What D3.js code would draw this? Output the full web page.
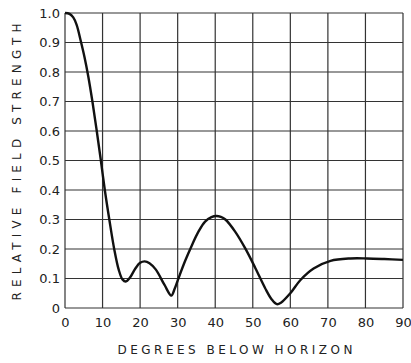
<!DOCTYPE html>
<html>
<head>
<meta charset="utf-8">
<script src="https://cdn.jsdelivr.net/npm/d3@7"></script>
<style>
  body { margin: 0; background: #fff; }
  text { font-family: "DejaVu Sans", sans-serif; fill: #222; }
</style>
</head>
<body>
<div id="chart"></div>
<script>
// values
const degrees = [0, 1.2, 2.2, 3.1, 4.2, 5.2, 6.2, 7.3, 8.4, 9.5, 10.6, 11.8, 13.1, 14.3, 15.3, 16.2, 17.3, 18.7, 20, 21.2, 22.5, 24.2, 26.5, 28.3, 29.2, 30.2, 32, 33.8, 35.5, 37.3, 39, 40.3, 41.5, 42.7, 45.3, 48, 50.7, 53.3, 55, 56.4, 57.5, 60, 62.7, 66.2, 70.7, 76, 80.4, 85, 90];
const strength = [1.0, 0.997, 0.985, 0.96, 0.905, 0.85, 0.785, 0.70, 0.605, 0.505, 0.40, 0.30, 0.20, 0.13, 0.097, 0.09, 0.103, 0.133, 0.153, 0.158, 0.152, 0.13, 0.078, 0.042, 0.065, 0.10, 0.16, 0.213, 0.258, 0.293, 0.308, 0.312, 0.309, 0.300, 0.259, 0.202, 0.135, 0.067, 0.03, 0.013, 0.018, 0.05, 0.095, 0.134, 0.160, 0.168, 0.168, 0.166, 0.163];

const xTicks = [0, 10, 20, 30, 40, 50, 60, 70, 80, 90];
const yTicks = [0, 0.1, 0.2, 0.3, 0.4, 0.5, 0.6, 0.7, 0.8, 0.9, 1.0];
const yTickLabels = ["0", "0.1", "0.2", "0.3", "0.4", "0.5", "0.6", "0.7", "0.8", "0.9", "1.0"];

const W = 411, H = 363;
const margin = { top: 13, right: 8, bottom: 55, left: 65 };
const width = W - margin.left - margin.right;
const height = H - margin.top - margin.bottom;

const svg = d3.select("#chart").append("svg")
  .attr("width", W)
  .attr("height", H);

const g = svg.append("g")
  .attr("transform", `translate(${margin.left},${margin.top})`);

const x = d3.scaleLinear().domain([0, 90]).range([0, width]);
const y = d3.scaleLinear().domain([0, 1]).range([height, 0]);

// grid
g.selectAll(".vgrid")
  .data(xTicks)
  .enter().append("line")
  .attr("x1", d => x(d)).attr("x2", d => x(d))
  .attr("y1", 0).attr("y2", height)
  .attr("stroke", "#333").attr("stroke-width", 1.2);

g.selectAll(".hgrid")
  .data(yTicks)
  .enter().append("line")
  .attr("x1", 0).attr("x2", width)
  .attr("y1", d => y(d)).attr("y2", d => y(d))
  .attr("stroke", "#333").attr("stroke-width", 1.2);

// axes (labels only)
const xAxis = d3.axisBottom(x).tickValues(xTicks).tickSize(0).tickPadding(10).tickFormat(d3.format("d"));
const yAxis = d3.axisLeft(y).tickValues(yTicks).tickSize(0).tickPadding(5)
  .tickFormat((d, i) => yTickLabels[i]);

g.append("g")
  .attr("transform", `translate(0,${height})`)
  .call(xAxis)
  .call(a => a.select(".domain").remove())
  .selectAll("text").style("font-size", "13px").attr("fill", "#222");

g.append("g")
  .call(yAxis)
  .call(a => a.select(".domain").remove())
  .selectAll("text").style("font-size", "13px").attr("fill", "#222");

// curve
const line = d3.line()
  .x(d => x(d[0]))
  .y(d => y(d[1]))
  .curve(d3.curveCatmullRom.alpha(0.5));

g.append("path")
  .datum(degrees.map((d, i) => [d, strength[i]]))
  .attr("fill", "none")
  .attr("stroke", "#111")
  .attr("stroke-width", 2.4)
  .attr("d", line);

// titles
svg.append("text")
  .attr("x", 235)
  .attr("y", 354)
  .attr("text-anchor", "middle")
  .attr("textLength", 235)
  .attr("lengthAdjust", "spacing")
  .style("font-size", "12px")
  .text("DEGREES BELOW HORIZON");

svg.append("text")
  .attr("transform", "translate(21,162) rotate(-90)")
  .attr("text-anchor", "middle")
  .attr("textLength", 277)
  .attr("lengthAdjust", "spacing")
  .style("font-size", "12px")
  .text("RELATIVE FIELD STRENGTH");
</script>
</body>
</html>
